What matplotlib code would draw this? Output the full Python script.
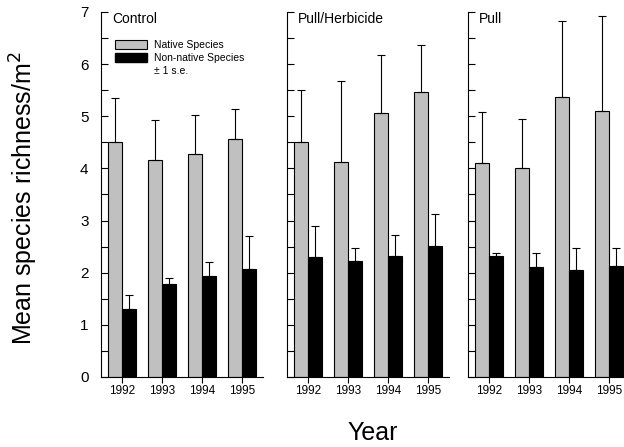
import matplotlib.pyplot as plt
import numpy as np
from matplotlib.patches import Patch

plt.rcParams["font.family"] = ["Liberation Sans", "DejaVu Sans"]

years = ["1992", "1993", "1994", "1995"]
panels = ["Control", "Pull/Herbicide", "Pull"]

# mean richness and the upper end of the +1 s.e. bar
native = [[4.50, 4.17, 4.27, 4.57],
          [4.50, 4.13, 5.07, 5.47],
          [4.10, 4.00, 5.37, 5.10]]
native_top = [[5.35, 4.93, 5.03, 5.13],
              [5.50, 5.68, 6.17, 6.37],
              [5.08, 4.95, 6.83, 6.93]]
nonnative = [[1.30, 1.78, 1.93, 2.08],
             [2.30, 2.22, 2.33, 2.52],
             [2.32, 2.10, 2.05, 2.12]]
nonnative_top = [[1.57, 1.90, 2.20, 2.70],
                 [2.90, 2.48, 2.73, 3.13],
                 [2.38, 2.38, 2.47, 2.48]]

fig = plt.figure(figsize=(6.24, 4.47), dpi=100)
lefts = [0.1619, 0.4599, 0.750]
width = 0.2596
x = np.arange(len(years))
w = 0.35

for i, name in enumerate(panels):
    ax = fig.add_axes([lefts[i], 0.1566, width, 0.8166])
    nat = np.array(native[i])
    non = np.array(nonnative[i])
    ax.bar(x - w / 2, nat, w, color="#c0c0c0", edgecolor="black", linewidth=0.8)
    ax.bar(x + w / 2, non, w, color="black", edgecolor="black", linewidth=0.8)
    ax.errorbar(x - w / 2, nat, yerr=[np.zeros(4), np.array(native_top[i]) - nat],
                fmt="none", ecolor="black", elinewidth=0.8, capsize=3.2, capthick=0.8)
    ax.errorbar(x + w / 2, non, yerr=[np.zeros(4), np.array(nonnative_top[i]) - non],
                fmt="none", ecolor="black", elinewidth=0.8, capsize=3.2, capthick=0.8)
    ax.set_xlim(-0.525, 3.52)
    ax.set_ylim(0, 7)
    ax.set_xticks(x)
    ax.set_xticklabels(years, fontsize=8.5)
    ax.set_yticks(np.arange(0, 8))
    ax.set_yticks(np.arange(0.5, 7, 1), minor=True)
    ax.tick_params(axis="y", which="both", direction="in", length=5, width=0.8)
    ax.tick_params(axis="x", direction="out", length=4, width=0.8, pad=2)
    if i > 0:
        ax.set_yticklabels([])
    else:
        ax.tick_params(axis="y", labelsize=11, pad=9)
    for s in ["top", "right"]:
        ax.spines[s].set_visible(False)
    for s in ["left", "bottom"]:
        ax.spines[s].set_linewidth(0.8)
    ax.text(0.068, 0.981, name, transform=ax.transAxes, fontsize=10, va="center", ha="left")
    if i == 0:
        handles = [Patch(facecolor="#c0c0c0", edgecolor="black", linewidth=0.8),
                   Patch(facecolor="black", edgecolor="black"),
                   Patch(facecolor="none", edgecolor="none")]
        ax.legend(handles, ["Native Species", "Non-native Species", "± 1 s.e."],
                  loc="upper left", bbox_to_anchor=(0.058, 0.935), frameon=False,
                  fontsize=7.5, handlelength=3.1, handleheight=0.9,
                  labelspacing=0.3, handletextpad=0.7, borderaxespad=0)

fig.text(0.038, 0.557, "Mean species richness/m$^2$", rotation=90, fontsize=18,
         ha="center", va="center")
fig.text(0.598, 0.031, "Year", fontsize=18, ha="center", va="center")

fig.savefig("out.png", dpi=100)
